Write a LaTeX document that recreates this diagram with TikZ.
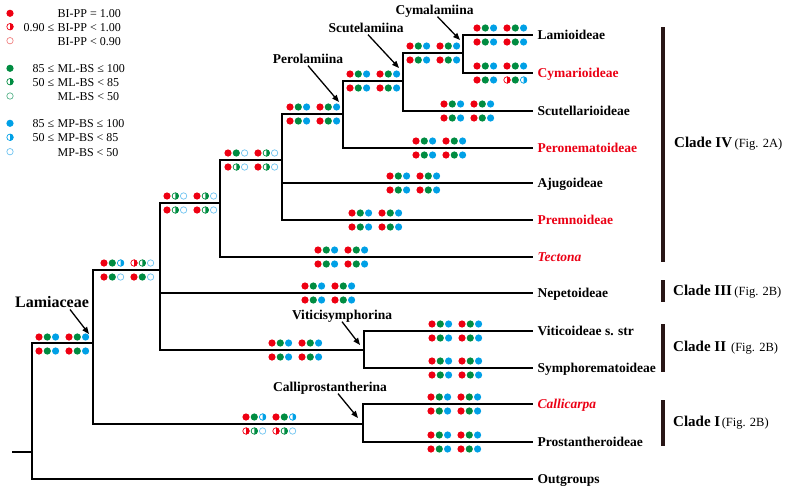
\documentclass[tikz,border=0pt]{standalone}
\usepackage{fontspec}
\setmainfont{Liberation Serif}
\usetikzlibrary{arrows.meta}
\definecolor{cR}{RGB}{238,0,18}
\definecolor{cG}{RGB}{0,140,65}
\definecolor{cB}{RGB}{0,160,230}
\definecolor{cRl}{RGB}{240,130,130}
\definecolor{cGl}{RGB}{90,180,140}
\definecolor{cBl}{RGB}{110,195,240}
\definecolor{txtred}{RGB}{235,0,20}
\definecolor{barc}{RGB}{40,22,22}
% one symbol: x, y, type (F full / H half / E empty), colour letter (R/G/B)
\newcommand\symb[4]{%
  \if#3F\fill[c#4] (#1,#2) circle[radius=3.6pt];\fi
  \if#3H\begin{scope}\clip (#1,#2-4) rectangle (#1+4,#2+4);\fill[c#4] (#1,#2) circle[radius=3.6pt];\end{scope}\draw[c#4,line width=0.7pt] (#1,#2) circle[radius=3.2pt];\fi
  \if#3E\draw[c#4l,line width=0.7pt] (#1,#2) circle[radius=3.2pt];\fi}
\newcommand\drow[8]{\symb{#1}{#2}{#3}{R}\symb{#1+8.3}{#2}{#4}{G}\symb{#1+16.6}{#2}{#5}{B}%
  \symb{#1+30}{#2}{#6}{R}\symb{#1+38.3}{#2}{#7}{G}\symb{#1+46.6}{#2}{#8}{B}}
\newcommand\clus[4]{\drow{#1}{#2-7}#3\drow{#1}{#2+7}#4}
\tikzset{
  tree/.style={line width=2.8pt, line join=miter},
  tip/.style={anchor=west, font=\fontsize{13.5}{15}\selectfont\bfseries, inner xsep=4.5pt, inner ysep=0pt, text height=8.9pt, text depth=0pt},
  sub/.style={font=\fontsize{13.5}{15}\selectfont\bfseries, inner sep=2pt, text height=8.9pt, text depth=0pt},
  arr/.style={line width=1.3pt, -{Triangle[length=7pt,width=5.5pt]}},
  leg/.style={anchor=west, font=\fontsize{12}{14}\selectfont, inner sep=0pt, text height=8pt, text depth=0pt},
  legp/.style={leg, anchor=east},
  cbar/.style={line width=4pt, draw=barc},
  clade/.style={anchor=west, inner sep=0pt}
}
\begin{document}
\begin{tikzpicture}[x=1pt,y=-1pt]
\useasboundingbox (0,0) rectangle (787,490);
% legend
\symb{10}{13.3}{F}{R}\symb{10}{26.7}{H}{R}\symb{10}{40.7}{E}{R}
\symb{10}{68.3}{F}{G}\symb{10}{81.7}{H}{G}\symb{10}{96}{E}{G}
\symb{10}{123.3}{F}{B}\symb{10}{137.3}{H}{B}\symb{10}{151.7}{E}{B}
\node[leg] (l1) at (57.5,13) {BI-PP = 1.00};
\node[legp] (l2p) at (54.5,27) {0.90 ≤};
\node[leg] (l2) at (57.5,27) {BI-PP < 1.00};
\node[leg] (l3) at (57.5,41) {BI-PP < 0.90};
\node[legp] (l4p) at (54.5,68) {85 ≤};
\node[leg] (l4) at (57.5,68) {ML-BS ≤ 100};
\node[legp] (l5p) at (54.5,82) {50 ≤};
\node[leg] (l5) at (57.5,82) {ML-BS < 85};
\node[leg] (l6) at (57.5,96) {ML-BS < 50};
\node[legp] (l7p) at (54.5,123) {85 ≤};
\node[leg] (l7) at (57.5,123) {MP-BS ≤ 100};
\node[legp] (l8p) at (54.5,137) {50 ≤};
\node[leg] (l8) at (57.5,137) {MP-BS < 85};
\node[leg] (l9) at (57.5,152) {MP-BS < 50};
% tree nodes
\coordinate (rs) at (12,452);
\coordinate (nRoot) at (32,452);
\coordinate (nLam) at (93,343);
\coordinate (nA) at (160,270);
\coordinate (nB) at (220,203);
\coordinate (nC) at (282,160);
\coordinate (nPero) at (343,114);
\coordinate (nScut) at (403,81);
\coordinate (nCyma) at (463,53);
\coordinate (nVS) at (364,350);
\coordinate (nCP) at (363,424);
% tip labels
\node[tip] (lam) at (533,35) {Lamioideae};
\node[tip,text=txtred] (cym) at (533,73) {Cymarioideae};
\node[tip] (scu) at (533,111) {Scutellarioideae};
\node[tip,text=txtred] (per) at (533,148) {Peronematoideae};
\node[tip] (aju) at (533,183) {Ajugoideae};
\node[tip,text=txtred] (pre) at (533,220) {Premnoideae};
\node[tip,text=txtred] (tec) at (533,257) {\itshape Tectona};
\node[tip] (nep) at (533,293) {Nepetoideae};
\node[tip] (vit) at (533,331) {Viticoideae s. str};
\node[tip] (sym) at (533,368) {Symphorematoideae};
\node[tip,text=txtred] (cal) at (533,404) {\itshape Callicarpa};
\node[tip] (pro) at (533,442) {Prostantheroideae};
\node[tip] (out) at (533,479) {Outgroups};
% branches
\draw[tree] (rs) -- (nRoot);
\draw[tree] (nRoot) |- (nLam);
\draw[tree] (nRoot) |- (out.west);
\draw[tree] (nLam) |- (nA);
\draw[tree] (nLam) |- (nCP);
\draw[tree] (nA) |- (nB);
\draw[tree] (nA) |- (nep.west);
\draw[tree] (nA) |- (nVS);
\draw[tree] (nB) |- (nC);
\draw[tree] (nB) |- (tec.west);
\draw[tree] (nC) |- (nPero);
\draw[tree] (nC) |- (aju.west);
\draw[tree] (nC) |- (pre.west);
\draw[tree] (nPero) |- (nScut);
\draw[tree] (nPero) |- (per.west);
\draw[tree] (nScut) |- (nCyma);
\draw[tree] (nScut) |- (scu.west);
\draw[tree] (nCyma) |- (lam.west);
\draw[tree] (nCyma) |- (cym.west);
\draw[tree] (nVS) |- (vit.west);
\draw[tree] (nVS) |- (sym.west);
\draw[tree] (nCP) |- (cal.west);
\draw[tree] (nCP) |- (pro.west);
% support symbols
\clus{39}{344}{FFFFFF}{FFFFFF}
\clus{104}{270}{FFHHHE}{FFEFFE}
\clus{167}{203}{FHEFHE}{FHEFHE}
\clus{228}{160}{FFEFHE}{FHEFHE}
\clus{290}{114}{FFFFFF}{FFFFFF}
\clus{350}{81}{FFFFFF}{FFFFFF}
\clus{410}{53}{FFFFFF}{FFFFFF}
\clus{477}{35}{FFFFFF}{FFFFFF}
\clus{477}{73}{FFFFFF}{FFFHFH}
\clus{444}{111}{FFFFFF}{FFFFFF}
\clus{416}{148}{FFFFFF}{FFFFFF}
\clus{390}{183}{FFFFFF}{FFFFFF}
\clus{352}{220}{FFFFFF}{FFFFFF}
\clus{318}{257}{FFFFFF}{FFFFFF}
\clus{305}{293}{FFFFFF}{FFFFFF}
\clus{272}{350}{FFFFFF}{FFFFFF}
\clus{432}{331}{FFFFFF}{FFFFFF}
\clus{432}{368}{FFFFFF}{FFFFFF}
\clus{431}{404}{FFFFFF}{FFFFFF}
\clus{431}{442}{FFFFFF}{FFFFFF}
\clus{246}{424}{FFHFFH}{HHEHHE}
% clade names with arrows
\node[sub,font=\fontsize{16}{18}\selectfont\bfseries,text height=10.6pt] (lamlab) at (52,302) {Lamiaceae};
\node[sub] (perolab) at (308,59) {Perolamiina};
\node[sub] (scutlab) at (366,28) {Scutelamiina};
\node[sub] (cymalab) at (434.5,10) {Cymalamiina};
\node[sub] (vslab) at (342,315) {Viticisymphorina};
\node[sub] (cplab) at (330,387) {Calliprostantherina};
\coordinate (lamTip) at (89,334);
\coordinate (peroTip) at (339,102);
\coordinate (scutTip) at (399,68);
\coordinate (cymaTip) at (460,40);
\coordinate (vsTip) at (360,345);
\coordinate (cpTip) at (358,418);
\draw[arr] ([xshift=18pt]lamlab.south) -- (lamTip);
\draw[arr] (perolab.south) -- (peroTip);
\draw[arr] ([xshift=2pt]scutlab.south) -- (scutTip);
\draw[arr] ([xshift=3pt]cymalab.south) -- (cymaTip);
\draw[arr] (vslab.south) -- (vsTip);
\draw[arr] ([xshift=8pt]cplab.south) -- (cpTip);
% clade bars
\coordinate (b4a) at (663,27); \coordinate (b4b) at (663,262);
\coordinate (b3a) at (663,280); \coordinate (b3b) at (663,302);
\coordinate (b2a) at (663,324); \coordinate (b2b) at (663,372);
\coordinate (b1a) at (663,400); \coordinate (b1b) at (663,446);
\draw[cbar] (b4a) -- (b4b);
\draw[cbar] (b3a) -- (b3b);
\draw[cbar] (b2a) -- (b2b);
\draw[cbar] (b1a) -- (b1b);
\node[clade] (c4) at (674,144) {{\fontsize{15}{17}\selectfont\bfseries Clade IV} {\fontsize{12.5}{14}\selectfont (Fig. 2A)}};
\node[clade] (c3) at (673,292) {{\fontsize{15}{17}\selectfont\bfseries Clade III} {\fontsize{12.5}{14}\selectfont (Fig. 2B)}};
\node[clade] (c2) at (673,348) {{\fontsize{15}{17}\selectfont\bfseries Clade II}\ \ {\fontsize{12.5}{14}\selectfont (Fig. 2B)}};
\node[clade] (c1) at (673,423) {{\fontsize{15}{17}\selectfont\bfseries Clade I}\hspace{1.5pt}{\fontsize{12.5}{14}\selectfont (Fig. 2B)}};
\end{tikzpicture}
\end{document}
